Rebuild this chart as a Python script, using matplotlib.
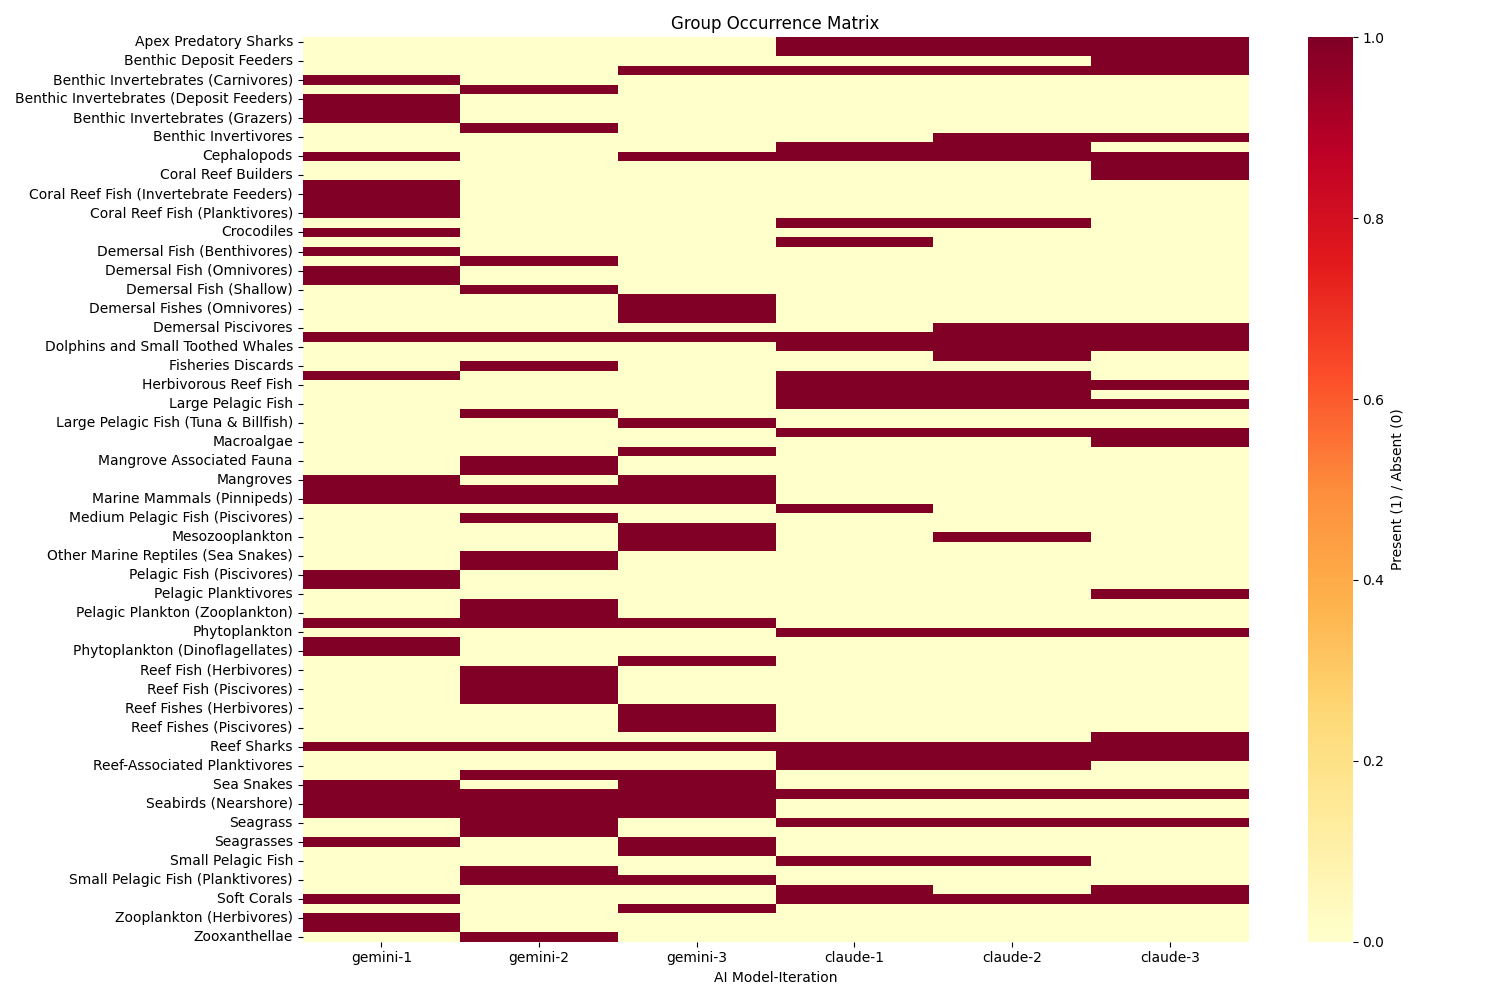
import numpy as np
import pandas as pd
import seaborn as sns
import matplotlib
matplotlib.use('Agg')
import matplotlib.pyplot as plt

groups = [
    'Apex Predatory Sharks', 'Benthic Carnivores', 'Benthic Deposit Feeders',
    'Benthic Filter Feeders', 'Benthic Invertebrates (Carnivores)',
    'Benthic Invertebrates (Crustaceans)', 'Benthic Invertebrates (Deposit Feeders)',
    'Benthic Invertebrates (Filter Feeders)', 'Benthic Invertebrates (Grazers)',
    'Benthic Invertebrates (Suspension Feeders)', 'Benthic Invertivores',
    'Benthic Primary Producers', 'Cephalopods', 'Coastal Seabirds',
    'Coral Reef Builders', 'Coral Reef Fish (Herbivores)',
    'Coral Reef Fish (Invertebrate Feeders)', 'Coral Reef Fish (Piscivores)',
    'Coral Reef Fish (Planktivores)', 'Crabs and Lobsters', 'Crocodiles',
    'Crown-of-Thorns Starfish', 'Demersal Fish (Benthivores)', 'Demersal Fish (Deep)',
    'Demersal Fish (Omnivores)', 'Demersal Fish (Piscivores)', 'Demersal Fish (Shallow)',
    'Demersal Fishes (Benthivores)', 'Demersal Fishes (Omnivores)',
    'Demersal Fishes (Piscivores)', 'Demersal Piscivores', 'Detritus',
    'Dolphins and Small Toothed Whales', 'Dugongs', 'Fisheries Discards',
    'Gelatinous Zooplankton', 'Herbivorous Reef Fish', 'Jellyfish',
    'Large Pelagic Fish', 'Large Pelagic Fish (Sharks)',
    'Large Pelagic Fish (Tuna & Billfish)', 'Large Zooplankton', 'Macroalgae',
    'Macrobenthos', 'Mangrove Associated Fauna', 'Mangrove Crabs', 'Mangroves',
    'Marine Mammals (Cetaceans)', 'Marine Mammals (Pinnipeds)', 'Marine Turtles',
    'Medium Pelagic Fish (Piscivores)', 'Mesopelagic Fish', 'Mesozooplankton',
    'Microzooplankton', 'Other Marine Reptiles (Sea Snakes)',
    'Other Marine Reptiles (Turtles)', 'Pelagic Fish (Piscivores)',
    'Pelagic Fish (Planktivores)', 'Pelagic Planktivores',
    'Pelagic Plankton (Phytoplankton)', 'Pelagic Plankton (Zooplankton)',
    'Pelagic Sharks', 'Phytoplankton', 'Phytoplankton (Diatoms)',
    'Phytoplankton (Dinoflagellates)', 'Picoplankton', 'Reef Fish (Herbivores)',
    'Reef Fish (Invertivores)', 'Reef Fish (Piscivores)', 'Reef Fish (Planktivores)',
    'Reef Fishes (Herbivores)', 'Reef Fishes (Invertivores)', 'Reef Fishes (Piscivores)',
    'Reef Invertebrates', 'Reef Sharks', 'Reef Top Predators',
    'Reef-Associated Planktivores', 'Sea Cucumbers', 'Sea Snakes', 'Sea Turtles',
    'Seabirds (Nearshore)', 'Seabirds (Offshore)', 'Seagrass', 'Seagrass Epiphytes',
    'Seagrasses', 'Shrimps', 'Small Pelagic Fish', 'Small Pelagic Fish (Anchovies)',
    'Small Pelagic Fish (Planktivores)', 'Snappers and Groupers', 'Soft Corals',
    'Sponges', 'Zooplankton (Herbivores)', 'Zooplankton (Omnivores)', 'Zooxanthellae',
]

models = ['gemini-1', 'gemini-2', 'gemini-3', 'claude-1', 'claude-2', 'claude-3']

gemini_1 = [0, 0, 0, 0, 1, 0, 1, 1, 1, 0,
            0, 0, 1, 0, 0, 1, 1, 1, 1, 0,
            1, 0, 1, 0, 1, 1, 0, 0, 0, 0,
            0, 1, 0, 0, 0, 1, 0, 0, 0, 0,
            0, 0, 0, 0, 0, 0, 1, 1, 1, 0,
            0, 0, 0, 0, 0, 0, 1, 1, 0, 0,
            0, 1, 0, 1, 1, 0, 0, 0, 0, 0,
            0, 0, 0, 0, 1, 0, 0, 0, 1, 1,
            1, 1, 0, 0, 1, 0, 0, 0, 0, 0,
            1, 0, 1, 1, 0]
gemini_2 = [0, 0, 0, 0, 0, 1, 0, 0, 0, 1,
            0, 0, 0, 0, 0, 0, 0, 0, 0, 0,
            0, 0, 0, 1, 0, 0, 1, 0, 0, 0,
            0, 1, 0, 0, 1, 0, 0, 0, 0, 1,
            0, 0, 0, 0, 1, 1, 0, 1, 1, 0,
            1, 0, 0, 0, 1, 1, 0, 0, 0, 1,
            1, 1, 0, 0, 0, 0, 1, 1, 1, 1,
            0, 0, 0, 0, 1, 0, 0, 1, 0, 1,
            1, 1, 1, 1, 0, 0, 0, 1, 1, 0,
            0, 0, 0, 0, 1]
gemini_3 = [0, 0, 0, 1, 0, 0, 0, 0, 0, 0,
            0, 0, 1, 0, 0, 0, 0, 0, 0, 0,
            0, 0, 0, 0, 0, 0, 0, 1, 1, 1,
            0, 1, 0, 0, 0, 0, 0, 0, 0, 0,
            1, 0, 0, 1, 0, 0, 1, 1, 1, 0,
            0, 1, 1, 1, 0, 0, 0, 0, 0, 0,
            0, 1, 0, 0, 0, 1, 0, 0, 0, 0,
            1, 1, 1, 0, 1, 0, 0, 1, 1, 1,
            1, 1, 0, 0, 1, 1, 0, 0, 1, 0,
            0, 1, 0, 0, 0]
claude_1 = [1, 1, 0, 1, 0, 0, 0, 0, 0, 0,
            0, 1, 1, 0, 0, 0, 0, 0, 0, 1,
            0, 1, 0, 0, 0, 0, 0, 0, 0, 0,
            0, 1, 1, 0, 0, 1, 1, 1, 1, 0,
            0, 1, 0, 0, 0, 0, 0, 0, 0, 1,
            0, 0, 0, 0, 0, 0, 0, 0, 0, 0,
            0, 0, 1, 0, 0, 0, 0, 0, 0, 0,
            0, 0, 0, 0, 1, 1, 1, 0, 0, 1,
            0, 0, 1, 0, 0, 0, 1, 0, 0, 1,
            1, 0, 0, 0, 0]
claude_2 = [1, 1, 0, 1, 0, 0, 0, 0, 0, 0,
            1, 1, 1, 0, 0, 0, 0, 0, 0, 1,
            0, 0, 0, 0, 0, 0, 0, 0, 0, 0,
            1, 1, 1, 1, 0, 1, 1, 1, 1, 0,
            0, 1, 0, 0, 0, 0, 0, 0, 0, 0,
            0, 0, 1, 0, 0, 0, 0, 0, 0, 0,
            0, 0, 1, 0, 0, 0, 0, 0, 0, 0,
            0, 0, 0, 0, 1, 1, 1, 0, 0, 1,
            0, 0, 1, 0, 0, 0, 1, 0, 0, 0,
            1, 0, 0, 0, 0]
claude_3 = [1, 1, 1, 1, 0, 0, 0, 0, 0, 0,
            1, 0, 1, 1, 1, 0, 0, 0, 0, 0,
            0, 0, 0, 0, 0, 0, 0, 0, 0, 0,
            1, 1, 1, 0, 0, 0, 1, 0, 1, 0,
            0, 1, 1, 0, 0, 0, 0, 0, 0, 0,
            0, 0, 0, 0, 0, 0, 0, 0, 1, 0,
            0, 0, 1, 0, 0, 0, 0, 0, 0, 0,
            0, 0, 0, 1, 1, 1, 0, 0, 0, 1,
            0, 0, 1, 0, 0, 0, 0, 0, 0, 1,
            1, 0, 0, 0, 0]

df = pd.DataFrame({
    'gemini-1': gemini_1, 'gemini-2': gemini_2, 'gemini-3': gemini_3,
    'claude-1': claude_1, 'claude-2': claude_2, 'claude-3': claude_3,
}, index=groups)[models]

fig = plt.figure(figsize=(15, 10), dpi=100)
ax = sns.heatmap(df, cmap='YlOrRd', yticklabels=2,
                 cbar_kws={'label': 'Present (1) / Absent (0)'})
plt.title('Group Occurrence Matrix')
plt.xlabel('AI Model-Iteration')
plt.ylabel('')
plt.tight_layout()
plt.savefig('out.png')
